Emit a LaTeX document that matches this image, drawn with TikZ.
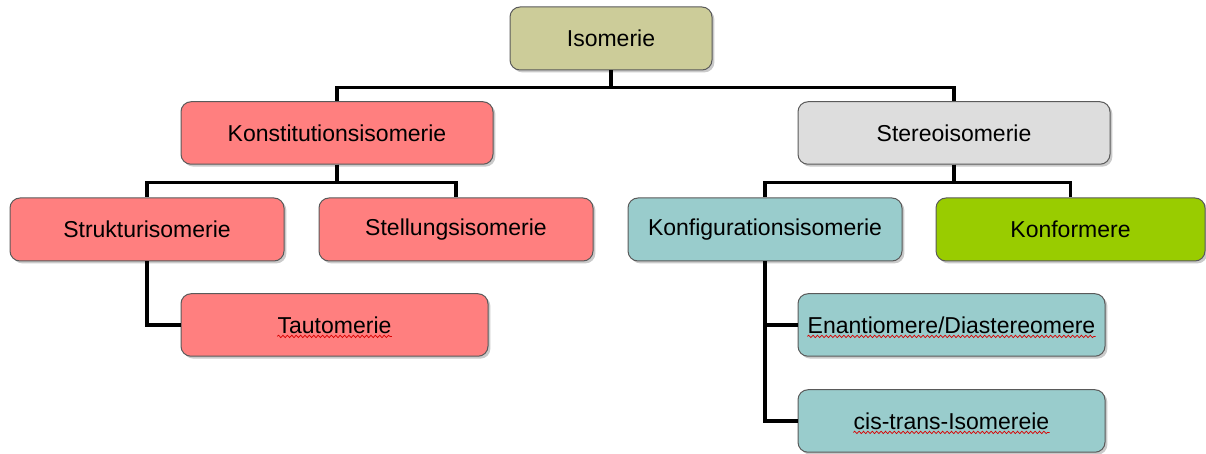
\documentclass[tikz,border=0pt]{standalone}
\usepackage{fontspec}
\setmainfont{Liberation Sans}
\usetikzlibrary{shadows,decorations.pathmorphing}
\definecolor{isofill}{HTML}{CCCC99}
\definecolor{redfill}{HTML}{FF7F7F}
\definecolor{greyfill}{HTML}{DDDDDD}
\definecolor{tealfill}{HTML}{99CCCC}
\definecolor{greenfill}{HTML}{99CC00}
\definecolor{boxline}{HTML}{5A5A5A}
\tikzset{
  box/.style={rectangle, rounded corners=5pt, draw=boxline, line width=0.5pt,
    inner sep=0pt, minimum height=31.25pt, font=\fontsize{11.5pt}{13pt}\selectfont,
    drop shadow={shadow xshift=1.2pt, shadow yshift=-1.2pt, opacity=0.35, fill=black!60}},
  conn/.style={line width=1.6pt, black},
  phantomtext/.style={inner sep=0pt, text opacity=0, font=\fontsize{11.5pt}{13pt}\selectfont},
  wavy/.style={red!85!black, line width=0.35pt, decorate,
    decoration={snake, amplitude=0.6pt, segment length=2.2pt}}
}
\begin{document}
\begin{tikzpicture}[x=0.5pt, y=-0.5pt]
\useasboundingbox (0,0) rectangle (1206,454);
% nodes
\node[box, fill=isofill, minimum width=101pt, minimum height=31.5pt] (iso) at (611,38.5) {Isomerie};
\node[box, fill=redfill, minimum width=156pt] (kon) at (337,133) {Konstitutionsisomerie};
\node[box, fill=greyfill, minimum width=156pt] (ste) at (954,133) {Stereoisomerie};
\node[box, fill=redfill, minimum width=137pt, minimum height=31.5pt] (str) at (147,229.5) {Strukturisomerie};
\node[box, fill=redfill, minimum width=137pt, minimum height=31.5pt] (stl) at (456,229.5) {Stellungsisomerie};
\node[box, fill=tealfill, minimum width=137pt, minimum height=31.5pt] (kfg) at (765,229.5) {Konfigurationsisomerie};
\node[box, fill=greenfill, minimum width=134.5pt, minimum height=31.5pt] (kfm) at (1070.5,229.5) {Konformere};
\node[box, fill=redfill, minimum width=153.5pt] (tau) at (334.5,325) {Tautomerie};
\node[box, fill=tealfill, minimum width=153.5pt] (ena) at (951.5,325) {Enantiomere/Diastereomere};
\node[box, fill=tealfill, minimum width=153.5pt] (cis) at (951.5,421) {cis-trans-Isomereie};
% connectors
\draw[conn] (iso.south) -- ++(0,17) -| (kon.north);
\draw[conn] (iso.south) -- ++(0,17) -| (ste.north);
\draw[conn] (kon.south) -- ++(0,18) -| (str.north);
\draw[conn] (kon.south) -- ++(0,18) -| (stl.north);
\draw[conn] (ste.south) -- ++(0,18) -| (kfg.north);
\draw[conn] (ste.south) -- ++(0,18) -| (kfm.north);
\draw[conn] (str.south) |- (tau.west);
\draw[conn] (kfg.south) |- (ena.west);
\draw[conn] (kfg.south) |- (cis.west);
% spell-check underlines
\node[phantomtext] (tauT) at (tau.center) {Tautomerie};
\node[phantomtext] (enaT) at (ena.center) {Enantiomere/Diastereomere};
\node[phantomtext] (cisT) at (cis.center) {cis-trans-Isomereie};
\draw[wavy] ([yshift=-1.6pt]tauT.base west) -- ([yshift=-1.6pt]tauT.base east);
\draw[wavy] ([yshift=-1.6pt]enaT.base west) -- ([yshift=-1.6pt]enaT.base east);
\draw[wavy] ([yshift=-1.6pt]cisT.base west) -- ([yshift=-1.6pt]cisT.base east);
\end{tikzpicture}
\end{document}
